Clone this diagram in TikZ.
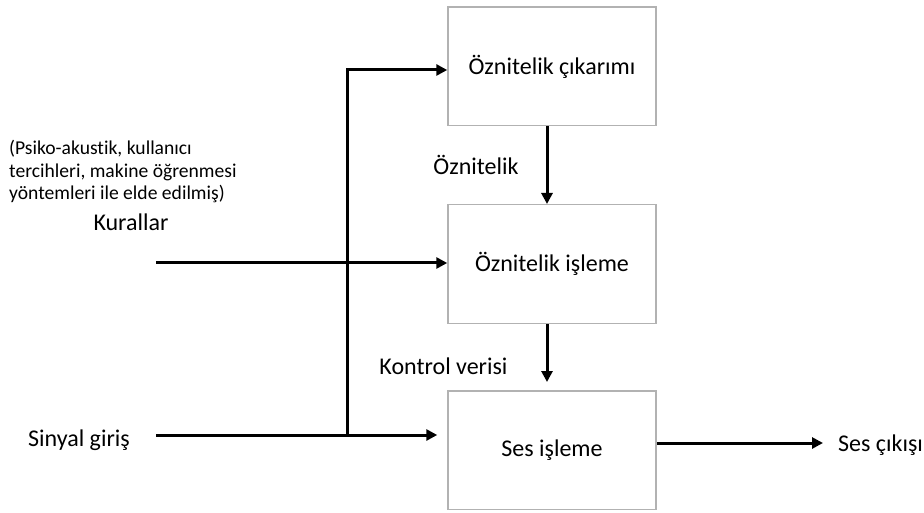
\documentclass[tikz,border=0pt]{standalone}
\usepackage{fontspec}
\setmainfont{Carlito}[Ligatures=CommonOff]
\usetikzlibrary{arrows.meta,positioning}
\tikzset{
  block/.style={draw=black!30, line width=1.5pt, minimum width=208pt, minimum height=118.5pt, inner sep=0pt, font=\fontsize{24}{28}\selectfont},
  lbl/.style={inner sep=0pt, font=\fontsize{24}{28}\selectfont},
  arr/.style={line width=3pt, -{Triangle[length=11pt,width=11pt]}},
}
\begin{document}
\begin{tikzpicture}[x=1pt, y=-1pt]
  \useasboundingbox (0,0) rectangle (924,513);
  \node[block] (fc) at (552,66.5) {Öznitelik çıkarımı};
  \node[block, node distance=197.5, below of=fc] (fe) {Öznitelik işleme};
  \node[block, node distance=186, below of=fe] (fs) {Ses işleme};
  \node[lbl, align=left, anchor=north west, font=\fontsize{19.6}{22.5}\selectfont] (ruletext) at (9,140) {(Psiko-akustik, kullanıcı\\tercihleri, makine öğrenmesi\\yöntemleri ile elde edilmiş)};
  \node[lbl] (rules) at (131,222) {Kurallar};
  \node[lbl] (sig) at (79,440) {Sinyal giriş};
  \node[lbl, anchor=west] (sesout) at (838,445) {Ses çıkışı};
  \coordinate (rulein) at (156,263);
  \coordinate (sigin) at (156,435);
  \coordinate (split) at (347,435);
  \coordinate (outend) at (823,443);
  \draw[arr] (rulein) -- (rulein -| fe.west);
  \draw[arr, shorten >=10pt] (sigin) -- (sigin -| fs.west);
  \draw[arr] (split) |- ([yshift=-3.5pt]fc.west);
  \draw[arr] ([xshift=-5pt]fc.south) -- node[lbl, left=27pt] (featlbl) {Öznitelik} ([xshift=-5pt]fe.north);
  \draw[arr, shorten >=8pt] ([xshift=-5pt]fe.south) -- node[lbl, left=38pt, yshift=-9pt] (ctrllbl) {Kontrol verisi} ([xshift=-5pt]fs.north);
  \draw[arr] (outend -| fs.east) -- (outend);
\end{tikzpicture}
\end{document}
